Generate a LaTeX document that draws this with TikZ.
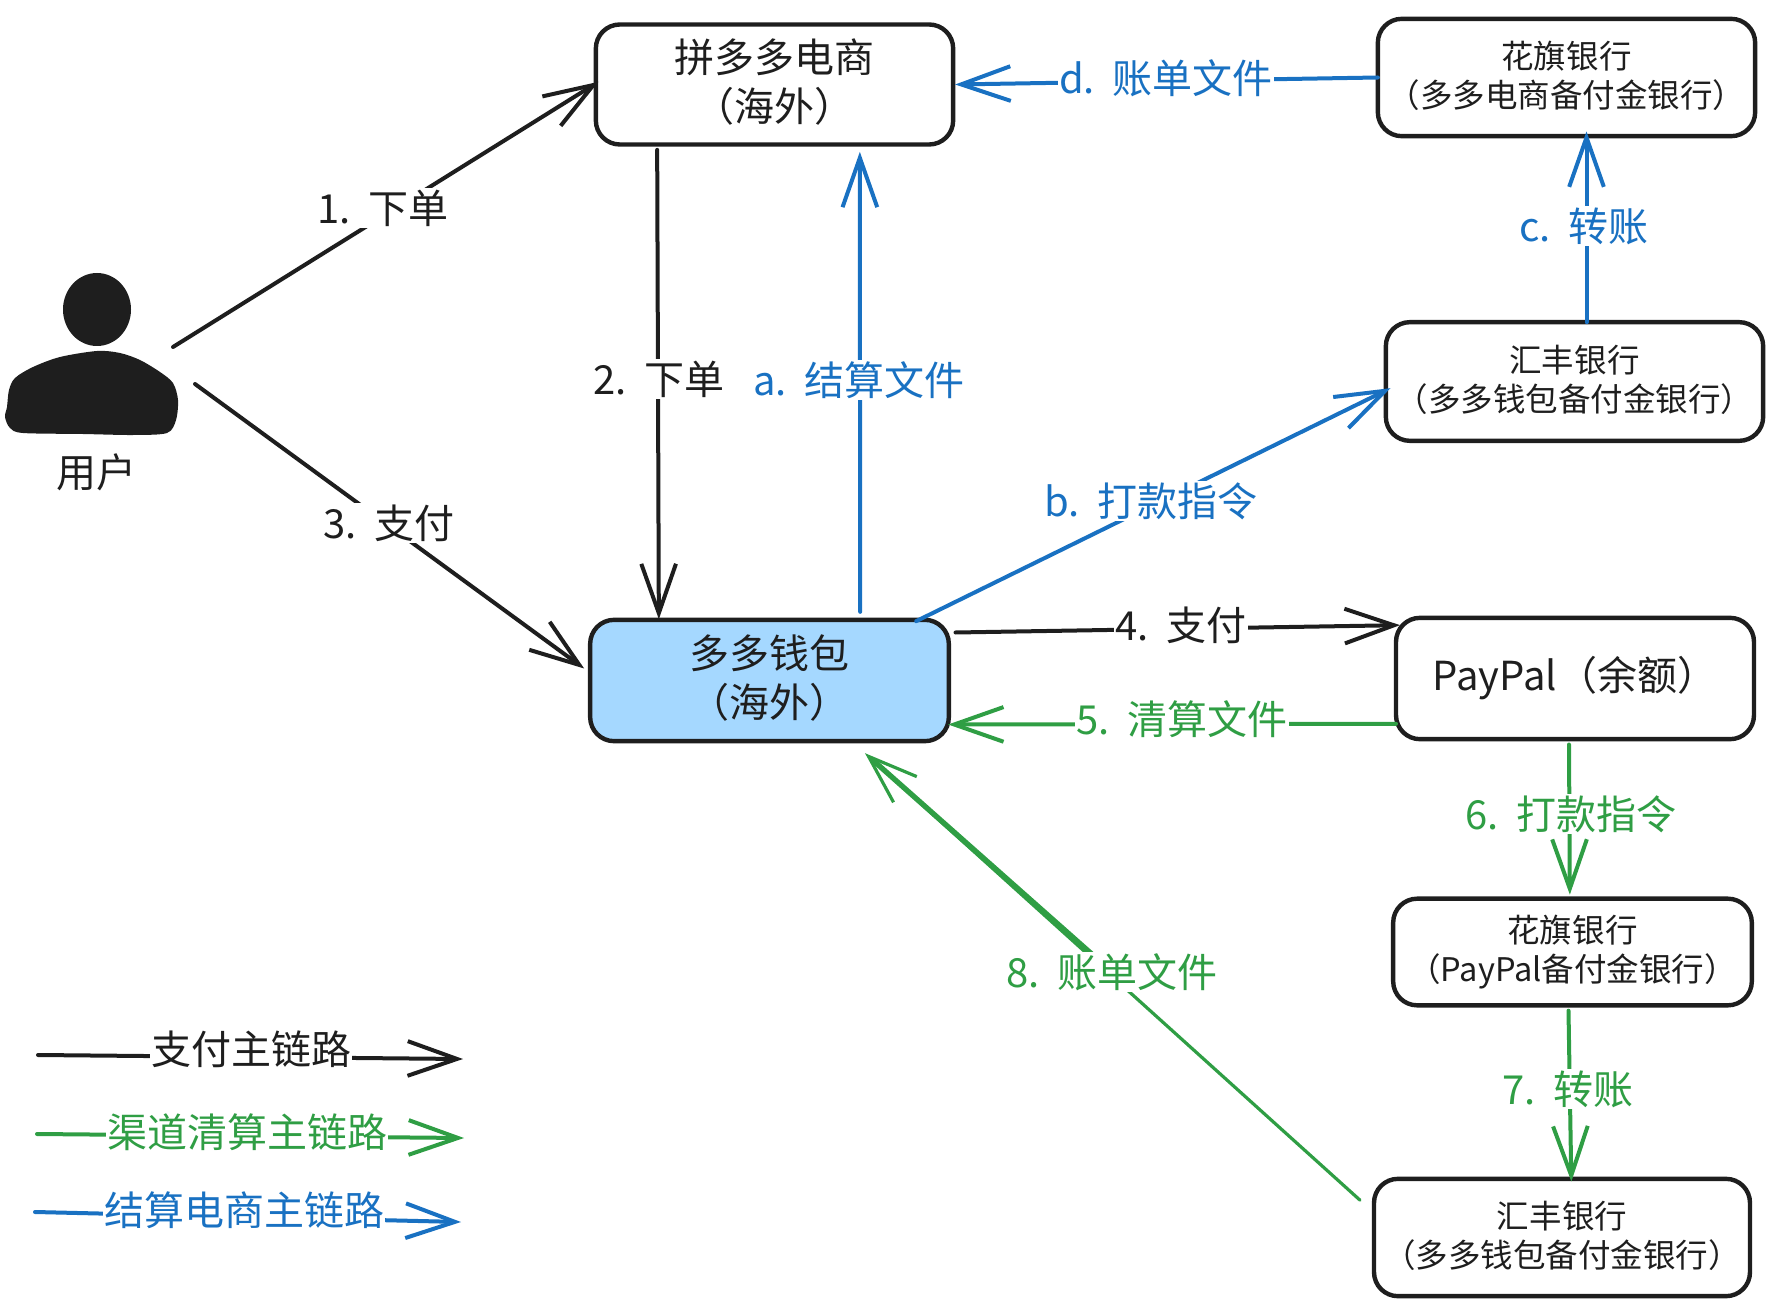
\documentclass[tikz,border=0pt]{standalone}
\usepackage{fontspec}
\setmainfont{Noto Sans CJK SC}
\usetikzlibrary{arrows.meta}
\definecolor{inkblack}{HTML}{1E1E1E}
\definecolor{inkblue}{HTML}{1971C2}
\definecolor{inkgreen}{HTML}{2F9E44}
\definecolor{walletfill}{HTML}{A5D8FF}
\tikzset{
  box/.style={draw=inkblack,line width=3.3pt,rounded corners=18pt,outer sep=0pt,inner sep=0pt,align=center,text=inkblack,font=\fontsize{30}{37}\selectfont},
  bigbox/.style={box,execute at end node={\rule[-6.6pt]{0pt}{0pt}}},
  bank/.style={box,font=\fontsize{24.4}{29.5}\selectfont,execute at end node={\rule[-5.2pt]{0pt}{0pt}}},
  lbl/.style={fill=white,inner xsep=1pt,inner ysep=1pt,font=\fontsize{30}{37}\selectfont},
  link/.style={line width=3pt,line cap=round,-{Straight Barb[length=37pt,width=26pt]}},
  paylink/.style={link,draw=inkblack},
  chanlink/.style={link,draw=inkgreen},
  billlink/.style={link,draw=inkblue},
}
\begin{document}
\begin{tikzpicture}[x=0.75pt,y=-0.75pt]
\useasboundingbox (0,0) rectangle (1782,1316) ;

\fill[inkblack] (97,309.5) ellipse (34 and 36.5) ;
\fill[inkblack] plot[smooth cycle] coordinates {(97,351) (60,357) (33,367) (15,378) (9,390) (7,407) (5,417) (10,428) (23,433) (83,434) (133,435) (167,433) (176,420) (178,400) (173,383) (160,372) (140,360) (120,353)} ;
\node[text=inkblack,font=\fontsize{30}{37}\selectfont] (user) at (96,472) {用户} ;
\coordinate (userout) at (173,347) ;
\coordinate (userpay) at (195,384) ;

\node[bigbox,minimum width=268pt,minimum height=90pt] (shop) at (774.5,84.5) {拼多多电商\\（海外）} ;
\node[bigbox,fill=walletfill,minimum width=269pt,minimum height=91pt] (wallet) at (769.5,680.5) {多多钱包\\（海外）} ;
\node[bank,minimum width=283pt,minimum height=88pt] (citi) at (1566.5,77.5) {花旗银行\\（多多电商备付金银行）} ;
\node[bank,minimum width=283pt,minimum height=89pt] (hsbc) at (1574.5,381.5) {汇丰银行\\（多多钱包备付金银行）} ;
\node[box,minimum width=268.5pt,minimum height=91pt] (paypal) at (1575,678.5) {PayPal（余额）} ;
\node[bank,minimum width=269pt,minimum height=80pt] (citipp) at (1572.5,952) {花旗银行\\（PayPal备付金银行）} ;
\node[bank,minimum width=282pt,minimum height=88pt] (hsbcpp) at (1562,1237.5) {汇丰银行\\（多多钱包备付金银行）} ;

\draw[paylink] (userout) -- ([xshift=2pt,yshift=2pt]shop.west) ;
\draw[paylink] ([xshift=-88pt,yshift=-4pt]shop.south) -- ([xshift=-83pt,yshift=0.5pt]wallet.north) ;
\draw[paylink] (userpay) -- ([xshift=-4.5pt,yshift=9pt]wallet.west) ;
\draw[paylink] ([xshift=5pt,yshift=36pt]wallet.east) -- ([xshift=3pt,yshift=40pt]paypal.west) ;
\draw[chanlink] ([yshift=-34pt]paypal.west) -- ([xshift=-0.5pt,yshift=-33pt]wallet.east) ;
\draw[chanlink] ([xshift=-4.5pt,yshift=-4pt]paypal.south) -- ([xshift=-2pt,yshift=3pt]citipp.north) ;
\draw[chanlink] ([xshift=-3pt,yshift=-4pt]citipp.south) -- ([xshift=7pt,yshift=-2pt]hsbcpp.north) ;
\coordinate (eightend) at ([xshift=71.6pt,yshift=-9pt]wallet.south) ;
\coordinate (eightmid) at (1112,972) ;
\draw[chanlink,line width=2.4pt] ([xshift=-10.5pt,yshift=28pt]hsbcpp.west) -- (eightend) ;
\draw[draw=inkgreen,line width=4pt,shorten >=10pt] (eightmid) -- (eightend) ;
\draw[billlink] ([xshift=68pt,yshift=6pt]wallet.north) -- ([xshift=64pt,yshift=-5.5pt]shop.south) ;
\draw[billlink] ([xshift=110pt,yshift=-1pt]wallet.north) -- ([xshift=3.5pt,yshift=-5pt]hsbc.west) ;
\draw[billlink] ([xshift=9pt]hsbc.north) -- ([xshift=15pt,yshift=3.5pt]citi.south) ;
\draw[billlink] (citi.west) -- ([xshift=1.5pt]shop.east) ;

\node[lbl,text=inkblack] (l1) at (383,208) {1.\ \ 下单} ;
\node[lbl,text=inkblack] (l2) at (659,379) {2.\ \ 下单} ;
\node[lbl,text=inkblack] (l3) at (389,523) {3.\ \ 支付} ;
\node[lbl,text=inkblack] (l4) at (1181,625) {4.\ \ 支付} ;
\node[lbl,text=inkgreen] (l5) at (1182,719) {5.\ \ 清算文件} ;
\node[lbl,text=inkgreen] (l6) at (1571,814) {6.\ \ 打款指令} ;
\node[lbl,text=inkgreen] (l7) at (1568,1089) {7.\ \ 转账} ;
\node[lbl,text=inkgreen] (l8) at (1112,972) {8.\ \ 账单文件} ;
\node[lbl,text=inkblue] (la) at (859,380) {a.\ \ 结算文件} ;
\node[lbl,text=inkblue] (lb) at (1151,501) {b.\ \ 打款指令} ;
\node[lbl,text=inkblue] (lc) at (1584,226) {c.\ \ 转账} ;
\node[lbl,text=inkblue] (ld) at (1166,78) {d.\ \ 账单文件} ;

\coordinate (paykeya) at (38,1055) ;
\coordinate (paykeyb) at (463,1059) ;
\coordinate (chankeya) at (37,1134) ;
\coordinate (chankeyb) at (464,1138) ;
\coordinate (billkeya) at (35,1212) ;
\coordinate (billkeyb) at (461,1222) ;
\draw[paylink] (paykeya) -- (paykeyb) ;
\draw[chanlink] (chankeya) -- (chankeyb) ;
\draw[billlink] (billkeya) -- (billkeyb) ;
\node[lbl,text=inkblack] (paykey) at (251,1049) {支付主链路} ;
\node[lbl,text=inkgreen] (chankey) at (247,1132) {渠道清算主链路} ;
\node[lbl,text=inkblue] (billkey) at (244,1210) {结算电商主链路} ;
\end{tikzpicture}
\end{document}
